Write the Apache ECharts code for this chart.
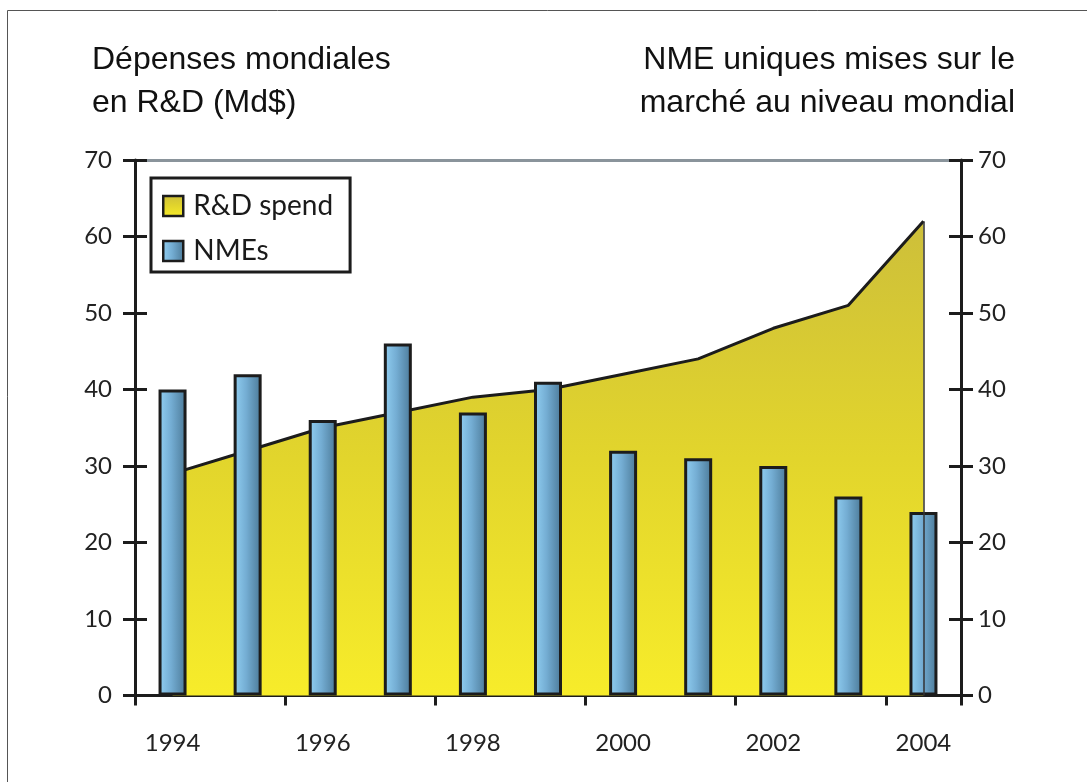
<!DOCTYPE html>
<html>
<head>
<meta charset="utf-8">
<script src="https://cdn.jsdelivr.net/npm/echarts@6/dist/echarts.min.js"></script>
<style>
html,body{margin:0;padding:0;background:#fff;}
#chart{width:1087px;height:782px;}
</style>
</head>
<body>
<div id="chart"></div>
<script>
// ---- Data ----
var years = ['1994','1995','1996','1997','1998','1999','2000','2001','2002','2003','2004'];
var rdSpend = [29, 32, 35, 37, 39, 40, 42, 44, 48, 51, 62];
var nmes = [40, 42, 36, 46, 37, 41, 32, 31, 30, 26, 24];
var yTicks = [0, 10, 20, 30, 40, 50, 60, 70];
var leftTitle = 'Dépenses mondiales\nen R&D (Md$)';
var rightTitle = 'NME uniques mises sur le\nmarché au niveau mondial';
var seriesNames = ['R&D spend', 'NMEs'];

// ---- Styles ----
var tickFont = 'Lato, "Open Sans", sans-serif';
var titleFont = 'normal 32px "Liberation Sans", Arial, sans-serif';
var dark = '#1c1c1c';
var yellowGrad = new echarts.graphic.LinearGradient(0, 0, 0, 1, [
  {offset: 0, color: '#cdbf3a'},
  {offset: 0.5, color: '#e2d52c'},
  {offset: 1, color: '#f7ec2a'}
]);
var blueGrad = new echarts.graphic.LinearGradient(0, 0, 1, 0, [
  {offset: 0, color: '#92d0f3'},
  {offset: 0.45, color: '#74add3'},
  {offset: 1, color: '#4a7896'}
]);
var yMin = yTicks[0], yMax = yTicks[yTicks.length - 1], yStep = yTicks[1] - yTicks[0];

function yAxisDef(pos, inside, showLine, showLabel, margin) {
  return {
    type: 'value', position: pos, min: yMin, max: yMax, interval: yStep,
    axisLine: {show: showLine, onZero: false, lineStyle: {color: dark, width: 3}},
    axisTick: {show: true, inside: inside, length: 12, lineStyle: {color: dark, width: 3}},
    axisLabel: {show: showLabel, margin: margin, color: '#222', fontSize: 24, fontFamily: tickFont},
    splitLine: {show: false}
  };
}

var chart = echarts.init(document.getElementById('chart'), null, {renderer: 'canvas'});
chart.setOption({
  animation: false,
  backgroundColor: '#fff',
  graphic: [
    {type: 'line', shape: {x1: 7.5, y1: 10.5, x2: 1087, y2: 10.5}, style: {stroke: '#555', lineWidth: 1}},
    {type: 'line', shape: {x1: 7.5, y1: 10.5, x2: 7.5, y2: 782}, style: {stroke: '#555', lineWidth: 1}},
    {type: 'text', x: 92, y: 39, style: {text: leftTitle, font: titleFont, lineHeight: 43, fill: '#111', textAlign: 'left', textVerticalAlign: 'top'}},
    {type: 'text', x: 1015, y: 39, style: {text: rightTitle, font: titleFont, lineHeight: 43, fill: '#111', textAlign: 'right', textVerticalAlign: 'top'}}
  ],
  grid: {left: 135, right: 126, top: 160, bottom: 86.5, containLabel: false},
  legend: {
    orient: 'vertical', left: 151, top: 178,
    backgroundColor: '#fff',
    borderColor: dark, borderWidth: 3, borderRadius: 0,
    padding: [14, 17, 7, 11],
    itemWidth: 20, itemHeight: 20, itemGap: 17,
    textStyle: {fontFamily: tickFont, fontSize: 28, lineHeight: 24, color: '#1a1a1a', padding: [0, 0, 0, 5]},
    data: [
      {name: seriesNames[0], icon: 'rect', itemStyle: {color: yellowGrad, borderColor: dark, borderWidth: 2.5}},
      {name: seriesNames[1], icon: 'rect', itemStyle: {color: blueGrad, borderColor: dark, borderWidth: 2.5}}
    ]
  },
  xAxis: [
    {type: 'category', data: years, position: 'bottom', boundaryGap: true,
     axisLine: {show: true, onZero: false, lineStyle: {color: dark, width: 3}},
     axisTick: {show: true, interval: 1, length: 10, lineStyle: {color: dark, width: 3}},
     axisLabel: {interval: 1, margin: 36, color: '#222', fontSize: 24, fontFamily: tickFont}},
    {type: 'category', data: years, position: 'bottom', boundaryGap: true,
     axisLine: {show: false, onZero: false},
     axisTick: {show: true, inside: true, interval: 1, length: 10, lineStyle: {color: dark, width: 3}},
     axisLabel: {show: false}},
    {type: 'category', data: years, position: 'top', boundaryGap: true,
     axisLine: {show: true, onZero: false, lineStyle: {color: '#8a949b', width: 3}},
     axisTick: {show: false}, axisLabel: {show: false}}
  ],
  yAxis: [
    yAxisDef('left', false, true, true, 23),
    yAxisDef('left', true, false, false, 0),
    yAxisDef('right', false, true, true, 17),
    yAxisDef('right', true, false, false, 0)
  ],
  series: [
    {
      name: seriesNames[0], type: 'line', xAxisIndex: 0, yAxisIndex: 0,
      data: rdSpend, symbol: 'none', z: 1,
      lineStyle: {color: dark, width: 3},
      itemStyle: {color: '#e2d52c'},
      areaStyle: {color: yellowGrad, opacity: 1},
      markLine: {
        silent: true, symbol: 'none', label: {show: false},
        lineStyle: {color: '#333', width: 1.5, type: 'solid'},
        data: [[{coord: [years[years.length - 1], yMin]}, {coord: [years[years.length - 1], rdSpend[rdSpend.length - 1]]}]]
      }
    },
    {
      name: seriesNames[1], type: 'bar', xAxisIndex: 0, yAxisIndex: 2,
      data: nmes, barWidth: 28, z: 3,
      itemStyle: {color: blueGrad, borderColor: dark, borderWidth: 3}
    }
  ]
});
</script>
</body>
</html>
